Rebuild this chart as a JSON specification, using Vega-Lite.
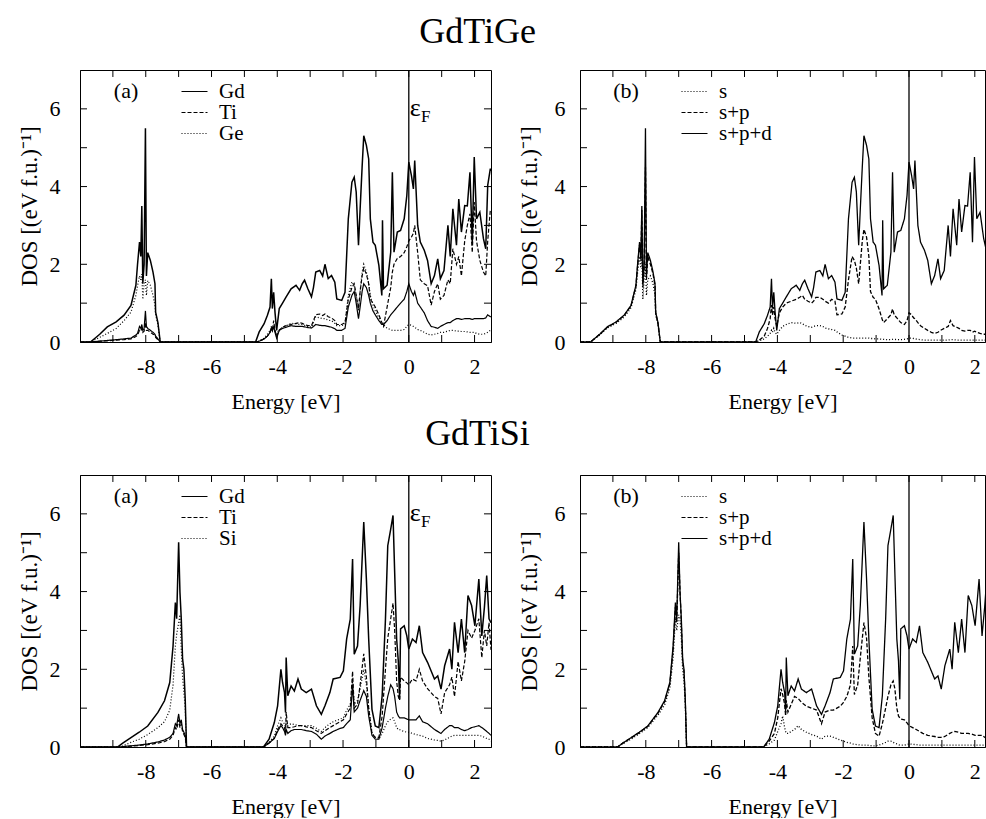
{
"$schema": "https://vega.github.io/schema/vega-lite/v6.json",
"background": "white",
"padding": {"left": 17, "top": 13, "right": 0, "bottom": 0},
"datasets": {
"xt": [{"t":-9},{"t":-8},{"t":-7},{"t":-6},{"t":-5},{"t":-4},{"t":-3},{"t":-2},{"t":-1},{"t":0},{"t":1},{"t":2}],
"yt": [{"t":1},{"t":2},{"t":3},{"t":4},{"t":5},{"t":6}],
"ge": [
{"E":-10,"T":0,"Gd":0,"Ti":0,"Ge":0,"s":0,"sp":0},
{"E":-9.68,"T":0,"Gd":0,"Ti":0,"Ge":0,"s":0,"sp":0},
{"E":-9.4,"T":0.2,"Gd":0.02,"Ti":0.02,"Ge":0.12,"s":0.18,"sp":0.2},
{"E":-9.17,"T":0.39,"Gd":0.04,"Ti":0.03,"Ge":0.22,"s":0.36,"sp":0.38},
{"E":-8.9,"T":0.52,"Gd":0.06,"Ti":0.05,"Ge":0.35,"s":0.48,"sp":0.51},
{"E":-8.66,"T":0.69,"Gd":0.08,"Ti":0.06,"Ge":0.55,"s":0.64,"sp":0.68},
{"E":-8.45,"T":0.94,"Gd":0.1,"Ti":0.08,"Ge":0.77,"s":0.88,"sp":0.93},
{"E":-8.3,"T":1.46,"Gd":0.18,"Ti":0.14,"Ge":1.2,"s":1.35,"sp":1.44},
{"E":-8.25,"T":2.0,"Gd":0.22,"Ti":0.18,"Ge":1.45,"s":1.8,"sp":1.95},
{"E":-8.19,"T":2.57,"Gd":0.4,"Ti":0.3,"Ge":1.7,"s":2.2,"sp":2.5},
{"E":-8.15,"T":2.2,"Gd":0.35,"Ti":0.28,"Ge":1.6,"s":1.9,"sp":2.1},
{"E":-8.12,"T":3.5,"Gd":0.45,"Ti":0.35,"Ge":1.75,"s":2.3,"sp":3.4},
{"E":-8.09,"T":1.5,"Gd":0.3,"Ti":0.25,"Ge":1.1,"s":1.1,"sp":1.4},
{"E":-8.05,"T":2.0,"Gd":0.35,"Ti":0.28,"Ge":1.5,"s":1.6,"sp":1.9},
{"E":-8.01,"T":5.5,"Gd":0.8,"Ti":0.5,"Ge":1.6,"s":2.0,"sp":4.5},
{"E":-7.98,"T":1.7,"Gd":0.4,"Ti":0.3,"Ge":1.2,"s":1.2,"sp":1.6},
{"E":-7.94,"T":2.3,"Gd":0.35,"Ti":0.3,"Ge":1.58,"s":1.6,"sp":2.2},
{"E":-7.86,"T":2.1,"Gd":0.3,"Ti":0.25,"Ge":1.46,"s":1.7,"sp":2.0},
{"E":-7.78,"T":1.8,"Gd":0.25,"Ti":0.2,"Ge":1.2,"s":1.5,"sp":1.75},
{"E":-7.72,"T":1.5,"Gd":0.2,"Ti":0.18,"Ge":0.94,"s":1.2,"sp":1.45},
{"E":-7.7,"T":0.77,"Gd":0.15,"Ti":0.12,"Ge":0.7,"s":0.7,"sp":0.75},
{"E":-7.63,"T":0.5,"Gd":0.08,"Ti":0.06,"Ge":0.45,"s":0.45,"sp":0.48},
{"E":-7.56,"T":0,"Gd":0,"Ti":0,"Ge":0,"s":0,"sp":0},
{"E":-4.66,"T":0,"Gd":0,"Ti":0,"Ge":0,"s":0,"sp":0},
{"E":-4.55,"T":0.26,"Gd":0.02,"Ti":0.02,"Ge":0.02,"s":0.03,"sp":0.05},
{"E":-4.4,"T":0.47,"Gd":0.08,"Ti":0.08,"Ge":0.1,"s":0.08,"sp":0.15},
{"E":-4.3,"T":0.69,"Gd":0.15,"Ti":0.15,"Ge":0.2,"s":0.15,"sp":0.35},
{"E":-4.22,"T":0.9,"Gd":0.25,"Ti":0.25,"Ge":0.3,"s":0.22,"sp":0.6},
{"E":-4.18,"T":1.63,"Gd":0.35,"Ti":0.4,"Ge":0.35,"s":0.3,"sp":0.95},
{"E":-4.15,"T":0.86,"Gd":0.28,"Ti":0.3,"Ge":0.3,"s":0.25,"sp":0.7},
{"E":-4.11,"T":1.28,"Gd":0.4,"Ti":0.55,"Ge":0.4,"s":0.35,"sp":0.9},
{"E":-4.07,"T":0.77,"Gd":0.25,"Ti":0.3,"Ge":0.28,"s":0.25,"sp":0.6},
{"E":-4.02,"T":0.3,"Gd":0.1,"Ti":0.15,"Ge":0.2,"s":0.2,"sp":0.4},
{"E":-3.94,"T":0.86,"Gd":0.3,"Ti":0.3,"Ge":0.32,"s":0.3,"sp":0.75},
{"E":-3.84,"T":1.0,"Gd":0.35,"Ti":0.38,"Ge":0.38,"s":0.4,"sp":0.9},
{"E":-3.73,"T":1.16,"Gd":0.38,"Ti":0.42,"Ge":0.42,"s":0.45,"sp":1.0},
{"E":-3.58,"T":1.37,"Gd":0.42,"Ti":0.45,"Ge":0.48,"s":0.5,"sp":1.05},
{"E":-3.43,"T":1.46,"Gd":0.4,"Ti":0.48,"Ge":0.47,"s":0.48,"sp":1.1},
{"E":-3.32,"T":1.33,"Gd":0.4,"Ti":0.5,"Ge":0.45,"s":0.5,"sp":1.15},
{"E":-3.24,"T":1.5,"Gd":0.4,"Ti":0.48,"Ge":0.45,"s":0.47,"sp":1.2},
{"E":-3.17,"T":1.59,"Gd":0.39,"Ti":0.45,"Ge":0.43,"s":0.43,"sp":1.1},
{"E":-3.07,"T":1.37,"Gd":0.37,"Ti":0.42,"Ge":0.4,"s":0.4,"sp":1.05},
{"E":-2.96,"T":1.16,"Gd":0.36,"Ti":0.42,"Ge":0.38,"s":0.38,"sp":1.0},
{"E":-2.9,"T":1.4,"Gd":0.4,"Ti":0.55,"Ge":0.5,"s":0.4,"sp":1.05},
{"E":-2.83,"T":1.8,"Gd":0.45,"Ti":0.7,"Ge":0.65,"s":0.42,"sp":1.15},
{"E":-2.71,"T":1.84,"Gd":0.43,"Ti":0.72,"Ge":0.62,"s":0.42,"sp":1.15},
{"E":-2.62,"T":1.7,"Gd":0.42,"Ti":0.68,"Ge":0.6,"s":0.4,"sp":1.1},
{"E":-2.55,"T":2.0,"Gd":0.42,"Ti":0.72,"Ge":0.6,"s":0.36,"sp":1.05},
{"E":-2.45,"T":1.63,"Gd":0.4,"Ti":0.65,"Ge":0.56,"s":0.34,"sp":1.0},
{"E":-2.35,"T":1.71,"Gd":0.38,"Ti":0.62,"Ge":0.55,"s":0.32,"sp":1.1},
{"E":-2.25,"T":1.54,"Gd":0.34,"Ti":0.55,"Ge":0.48,"s":0.3,"sp":1.05},
{"E":-2.19,"T":1.11,"Gd":0.3,"Ti":0.45,"Ge":0.42,"s":0.26,"sp":0.7},
{"E":-2.04,"T":1.07,"Gd":0.3,"Ti":0.45,"Ge":0.42,"s":0.18,"sp":0.72},
{"E":-1.94,"T":1.28,"Gd":0.35,"Ti":0.5,"Ge":0.45,"s":0.15,"sp":0.9},
{"E":-1.84,"T":3.17,"Gd":0.9,"Ti":1.1,"Ge":1.2,"s":0.12,"sp":1.6},
{"E":-1.73,"T":4.11,"Gd":1.2,"Ti":1.4,"Ge":1.55,"s":0.1,"sp":2.2},
{"E":-1.66,"T":4.24,"Gd":1.3,"Ti":1.5,"Ge":1.45,"s":0.1,"sp":2.1},
{"E":-1.6,"T":3.86,"Gd":1.0,"Ti":1.2,"Ge":1.2,"s":0.1,"sp":1.9},
{"E":-1.53,"T":2.49,"Gd":0.6,"Ti":0.85,"Ge":0.8,"s":0.1,"sp":1.5},
{"E":-1.48,"T":3.43,"Gd":0.9,"Ti":1.3,"Ge":1.3,"s":0.1,"sp":2.0},
{"E":-1.42,"T":4.5,"Gd":1.3,"Ti":1.7,"Ge":1.8,"s":0.1,"sp":2.6},
{"E":-1.37,"T":5.31,"Gd":1.5,"Ti":1.9,"Ge":2.0,"s":0.1,"sp":2.9},
{"E":-1.29,"T":5.06,"Gd":1.4,"Ti":1.75,"Ge":1.8,"s":0.1,"sp":2.7},
{"E":-1.22,"T":4.71,"Gd":1.2,"Ti":1.5,"Ge":1.5,"s":0.1,"sp":2.2},
{"E":-1.17,"T":3.17,"Gd":1.0,"Ti":1.1,"Ge":1.2,"s":0.09,"sp":1.3},
{"E":-1.09,"T":2.57,"Gd":0.8,"Ti":1.0,"Ge":0.95,"s":0.09,"sp":1.15},
{"E":-1.02,"T":2.49,"Gd":0.7,"Ti":0.9,"Ge":0.8,"s":0.08,"sp":1.1},
{"E":-0.91,"T":1.97,"Gd":0.55,"Ti":0.7,"Ge":0.62,"s":0.08,"sp":0.85},
{"E":-0.82,"T":1.2,"Gd":0.45,"Ti":0.5,"Ge":0.5,"s":0.07,"sp":0.6},
{"E":-0.8,"T":3.13,"Gd":0.45,"Ti":0.45,"Ge":0.5,"s":0.07,"sp":0.55},
{"E":-0.77,"T":1.37,"Gd":0.45,"Ti":0.4,"Ge":0.45,"s":0.07,"sp":0.5},
{"E":-0.66,"T":1.46,"Gd":0.55,"Ti":0.9,"Ge":0.35,"s":0.06,"sp":0.6},
{"E":-0.55,"T":2.31,"Gd":0.7,"Ti":1.4,"Ge":0.32,"s":0.06,"sp":0.7},
{"E":-0.5,"T":4.37,"Gd":0.75,"Ti":1.8,"Ge":0.3,"s":0.07,"sp":0.85},
{"E":-0.45,"T":2.31,"Gd":0.8,"Ti":2.0,"Ge":0.3,"s":0.07,"sp":0.7},
{"E":-0.35,"T":2.83,"Gd":0.9,"Ti":2.15,"Ge":0.3,"s":0.06,"sp":0.6},
{"E":-0.25,"T":2.87,"Gd":1.0,"Ti":2.2,"Ge":0.3,"s":0.06,"sp":0.5},
{"E":-0.14,"T":3.17,"Gd":1.1,"Ti":2.3,"Ge":0.32,"s":0.07,"sp":0.45},
{"E":-0.06,"T":3.77,"Gd":1.3,"Ti":2.45,"Ge":0.4,"s":0.08,"sp":0.55},
{"E":0,"T":4.63,"Gd":1.5,"Ti":2.6,"Ge":0.45,"s":0.1,"sp":0.75},
{"E":0.08,"T":4.28,"Gd":1.3,"Ti":2.7,"Ge":0.43,"s":0.1,"sp":0.7},
{"E":0.14,"T":3.94,"Gd":1.2,"Ti":2.8,"Ge":0.4,"s":0.09,"sp":0.62},
{"E":0.18,"T":4.67,"Gd":1.3,"Ti":3.0,"Ge":0.38,"s":0.08,"sp":0.6},
{"E":0.27,"T":3.0,"Gd":1.0,"Ti":2.3,"Ge":0.32,"s":0.07,"sp":0.5},
{"E":0.35,"T":2.57,"Gd":0.9,"Ti":1.6,"Ge":0.3,"s":0.06,"sp":0.42},
{"E":0.47,"T":2.36,"Gd":0.75,"Ti":1.5,"Ge":0.25,"s":0.05,"sp":0.35},
{"E":0.57,"T":2.1,"Gd":0.55,"Ti":1.45,"Ge":0.2,"s":0.05,"sp":0.3},
{"E":0.68,"T":1.5,"Gd":0.4,"Ti":0.95,"Ge":0.18,"s":0.05,"sp":0.25},
{"E":0.78,"T":1.71,"Gd":0.38,"Ti":1.3,"Ge":0.2,"s":0.05,"sp":0.22},
{"E":0.88,"T":2.14,"Gd":0.35,"Ti":1.5,"Ge":0.22,"s":0.05,"sp":0.25},
{"E":0.96,"T":1.63,"Gd":0.4,"Ti":1.1,"Ge":0.25,"s":0.05,"sp":0.3},
{"E":1.07,"T":1.84,"Gd":0.45,"Ti":1.2,"Ge":0.25,"s":0.05,"sp":0.35},
{"E":1.19,"T":3.0,"Gd":0.5,"Ti":1.6,"Ge":0.28,"s":0.05,"sp":0.4},
{"E":1.26,"T":2.2,"Gd":0.5,"Ti":1.5,"Ge":0.3,"s":0.06,"sp":0.55},
{"E":1.34,"T":3.43,"Gd":0.55,"Ti":2.4,"Ge":0.3,"s":0.06,"sp":0.42},
{"E":1.45,"T":2.49,"Gd":0.6,"Ti":2.0,"Ge":0.28,"s":0.05,"sp":0.38},
{"E":1.52,"T":3.68,"Gd":0.6,"Ti":2.2,"Ge":0.28,"s":0.05,"sp":0.35},
{"E":1.6,"T":2.83,"Gd":0.58,"Ti":1.7,"Ge":0.27,"s":0.05,"sp":0.3},
{"E":1.7,"T":3.51,"Gd":0.6,"Ti":2.6,"Ge":0.27,"s":0.05,"sp":0.28},
{"E":1.78,"T":3.5,"Gd":0.6,"Ti":3.0,"Ge":0.26,"s":0.05,"sp":0.3},
{"E":1.86,"T":4.37,"Gd":0.6,"Ti":3.3,"Ge":0.25,"s":0.05,"sp":0.3},
{"E":1.93,"T":2.57,"Gd":0.58,"Ti":2.3,"Ge":0.25,"s":0.05,"sp":0.25},
{"E":1.99,"T":4.76,"Gd":0.6,"Ti":3.6,"Ge":0.25,"s":0.05,"sp":0.28},
{"E":2.06,"T":3.17,"Gd":0.6,"Ti":2.6,"Ge":0.22,"s":0.05,"sp":0.25},
{"E":2.16,"T":3.34,"Gd":0.6,"Ti":2.1,"Ge":0.2,"s":0.05,"sp":0.22},
{"E":2.27,"T":2.66,"Gd":0.6,"Ti":1.8,"Ge":0.2,"s":0.05,"sp":0.2},
{"E":2.34,"T":2.4,"Gd":0.62,"Ti":1.7,"Ge":0.22,"s":0.05,"sp":0.2},
{"E":2.4,"T":4.03,"Gd":0.7,"Ti":2.6,"Ge":0.25,"s":0.05,"sp":0.22},
{"E":2.48,"T":4.46,"Gd":0.65,"Ti":3.4,"Ge":0.3,"s":0.05,"sp":0.2},
{"E":2.5,"T":4.4,"Gd":0.65,"Ti":3.4,"Ge":0.3,"s":0.05,"sp":0.2}
],
"si": [
{"E":-10,"T":0,"Gd":0,"Ti":0,"Si":0,"s":0,"sp":0},
{"E":-8.86,"T":0,"Gd":0,"Ti":0,"Si":0,"s":0,"sp":0},
{"E":-8.7,"T":0.1,"Gd":0.01,"Ti":0.01,"Si":0.03,"s":0.08,"sp":0.1},
{"E":-8.45,"T":0.24,"Gd":0.03,"Ti":0.02,"Si":0.12,"s":0.2,"sp":0.23},
{"E":-8.2,"T":0.38,"Gd":0.05,"Ti":0.04,"Si":0.2,"s":0.34,"sp":0.37},
{"E":-7.94,"T":0.54,"Gd":0.08,"Ti":0.06,"Si":0.32,"s":0.5,"sp":0.53},
{"E":-7.63,"T":0.89,"Gd":0.13,"Ti":0.1,"Si":0.5,"s":0.82,"sp":0.87},
{"E":-7.43,"T":1.19,"Gd":0.18,"Ti":0.14,"Si":0.65,"s":1.08,"sp":1.16},
{"E":-7.27,"T":1.66,"Gd":0.25,"Ti":0.2,"Si":0.95,"s":1.5,"sp":1.62},
{"E":-7.17,"T":2.6,"Gd":0.35,"Ti":0.3,"Si":1.6,"s":2.3,"sp":2.5},
{"E":-7.1,"T":3.72,"Gd":0.6,"Ti":0.5,"Si":2.6,"s":3.3,"sp":3.6},
{"E":-7.06,"T":3.3,"Gd":0.55,"Ti":0.45,"Si":2.9,"s":3.0,"sp":3.2},
{"E":-7.0,"T":5.27,"Gd":0.85,"Ti":0.7,"Si":3.2,"s":3.4,"sp":5.0},
{"E":-6.96,"T":3.98,"Gd":0.6,"Ti":0.5,"Si":3.4,"s":3.3,"sp":4.0},
{"E":-6.92,"T":3.3,"Gd":0.7,"Ti":0.6,"Si":2.5,"s":2.8,"sp":3.2},
{"E":-6.88,"T":2.26,"Gd":0.45,"Ti":0.4,"Si":1.8,"s":2.0,"sp":2.2},
{"E":-6.84,"T":2.0,"Gd":0.38,"Ti":0.32,"Si":1.4,"s":1.7,"sp":1.95},
{"E":-6.8,"T":1.23,"Gd":0.3,"Ti":0.25,"Si":1.0,"s":1.1,"sp":1.2},
{"E":-6.76,"T":0,"Gd":0,"Ti":0,"Si":0,"s":0,"sp":0},
{"E":-4.42,"T":0,"Gd":0,"Ti":0,"Si":0,"s":0,"sp":0},
{"E":-4.25,"T":0.2,"Gd":0.1,"Ti":0.1,"Si":0.12,"s":0.08,"sp":0.15},
{"E":-4.09,"T":0.63,"Gd":0.22,"Ti":0.22,"Si":0.28,"s":0.18,"sp":0.35},
{"E":-3.99,"T":1.06,"Gd":0.4,"Ti":0.45,"Si":0.55,"s":0.4,"sp":0.75},
{"E":-3.89,"T":2.0,"Gd":0.55,"Ti":0.6,"Si":0.75,"s":0.6,"sp":1.5},
{"E":-3.84,"T":1.66,"Gd":0.5,"Ti":0.55,"Si":0.65,"s":0.8,"sp":1.35},
{"E":-3.78,"T":1.4,"Gd":0.4,"Ti":0.5,"Si":0.6,"s":0.5,"sp":1.1},
{"E":-3.75,"T":0.89,"Gd":0.3,"Ti":0.35,"Si":0.45,"s":0.4,"sp":0.8},
{"E":-3.73,"T":2.3,"Gd":0.45,"Ti":0.9,"Si":0.6,"s":0.35,"sp":1.2},
{"E":-3.68,"T":1.32,"Gd":0.35,"Ti":0.5,"Si":0.55,"s":0.35,"sp":0.9},
{"E":-3.58,"T":1.57,"Gd":0.42,"Ti":0.5,"Si":0.6,"s":0.4,"sp":1.1},
{"E":-3.48,"T":1.44,"Gd":0.45,"Ti":0.52,"Si":0.58,"s":0.45,"sp":1.3},
{"E":-3.37,"T":1.75,"Gd":0.45,"Ti":0.55,"Si":0.55,"s":0.55,"sp":1.25},
{"E":-3.27,"T":1.49,"Gd":0.45,"Ti":0.55,"Si":0.55,"s":0.45,"sp":1.15},
{"E":-3.12,"T":1.4,"Gd":0.42,"Ti":0.52,"Si":0.55,"s":0.38,"sp":1.05},
{"E":-2.96,"T":1.49,"Gd":0.4,"Ti":0.5,"Si":0.55,"s":0.32,"sp":1.0},
{"E":-2.81,"T":1.06,"Gd":0.33,"Ti":0.42,"Si":0.48,"s":0.28,"sp":0.95},
{"E":-2.66,"T":0.84,"Gd":0.2,"Ti":0.35,"Si":0.4,"s":0.2,"sp":0.6},
{"E":-2.55,"T":1.06,"Gd":0.28,"Ti":0.42,"Si":0.5,"s":0.28,"sp":0.9},
{"E":-2.4,"T":1.4,"Gd":0.35,"Ti":0.5,"Si":0.6,"s":0.28,"sp":0.95},
{"E":-2.3,"T":1.75,"Gd":0.4,"Ti":0.55,"Si":0.65,"s":0.25,"sp":0.95},
{"E":-2.09,"T":1.79,"Gd":0.48,"Ti":0.65,"Si":0.72,"s":0.18,"sp":1.05},
{"E":-1.99,"T":1.96,"Gd":0.5,"Ti":0.7,"Si":0.75,"s":0.15,"sp":1.15},
{"E":-1.89,"T":2.78,"Gd":0.6,"Ti":0.85,"Si":0.95,"s":0.12,"sp":1.3},
{"E":-1.78,"T":3.29,"Gd":0.7,"Ti":1.0,"Si":1.1,"s":0.1,"sp":1.6},
{"E":-1.71,"T":4.84,"Gd":1.6,"Ti":1.95,"Si":1.7,"s":0.08,"sp":2.6},
{"E":-1.66,"T":2.39,"Gd":0.9,"Ti":1.0,"Si":1.1,"s":0.07,"sp":1.35},
{"E":-1.56,"T":2.6,"Gd":1.0,"Ti":1.1,"Si":1.2,"s":0.06,"sp":1.6},
{"E":-1.48,"T":3.64,"Gd":1.2,"Ti":1.6,"Si":1.5,"s":0.05,"sp":2.3},
{"E":-1.37,"T":5.79,"Gd":1.45,"Ti":2.4,"Si":2.0,"s":0.05,"sp":3.2},
{"E":-1.29,"T":4.32,"Gd":1.3,"Ti":1.8,"Si":1.6,"s":0.05,"sp":2.8},
{"E":-1.22,"T":2.78,"Gd":0.8,"Ti":1.0,"Si":1.0,"s":0.04,"sp":1.8},
{"E":-1.12,"T":0.97,"Gd":0.3,"Ti":0.35,"Si":0.35,"s":0.03,"sp":0.75},
{"E":-1.02,"T":0.54,"Gd":0.2,"Ti":0.25,"Si":0.25,"s":0.03,"sp":0.35},
{"E":-0.91,"T":0.5,"Gd":0.2,"Ti":0.25,"Si":0.2,"s":0.05,"sp":0.28},
{"E":-0.81,"T":1.32,"Gd":0.5,"Ti":0.8,"Si":0.35,"s":0.08,"sp":0.6},
{"E":-0.71,"T":3.29,"Gd":1.0,"Ti":2.0,"Si":0.55,"s":0.12,"sp":1.0},
{"E":-0.64,"T":5.18,"Gd":1.3,"Ti":2.8,"Si":0.65,"s":0.15,"sp":1.3},
{"E":-0.55,"T":5.61,"Gd":1.6,"Ti":3.3,"Si":0.72,"s":0.15,"sp":1.6},
{"E":-0.48,"T":5.96,"Gd":1.5,"Ti":3.7,"Si":0.75,"s":0.12,"sp":1.7},
{"E":-0.43,"T":4.5,"Gd":1.3,"Ti":3.0,"Si":0.65,"s":0.1,"sp":1.5},
{"E":-0.37,"T":2.78,"Gd":0.9,"Ti":1.7,"Si":0.5,"s":0.08,"sp":1.0},
{"E":-0.32,"T":2.22,"Gd":0.8,"Ti":1.3,"Si":0.45,"s":0.06,"sp":0.8},
{"E":-0.28,"T":1.23,"Gd":0.75,"Ti":1.2,"Si":0.45,"s":0.05,"sp":0.75},
{"E":-0.25,"T":3.04,"Gd":0.75,"Ti":1.8,"Si":0.43,"s":0.05,"sp":0.72},
{"E":-0.14,"T":3.12,"Gd":0.75,"Ti":1.7,"Si":0.4,"s":0.05,"sp":0.7},
{"E":-0.06,"T":2.86,"Gd":0.72,"Ti":1.65,"Si":0.38,"s":0.06,"sp":0.62},
{"E":0,"T":2.52,"Gd":0.7,"Ti":1.6,"Si":0.38,"s":0.08,"sp":0.55},
{"E":0.11,"T":2.78,"Gd":0.7,"Ti":1.75,"Si":0.35,"s":0.07,"sp":0.5},
{"E":0.22,"T":2.69,"Gd":0.7,"Ti":1.7,"Si":0.32,"s":0.06,"sp":0.45},
{"E":0.32,"T":3.12,"Gd":0.8,"Ti":2.0,"Si":0.3,"s":0.05,"sp":0.4},
{"E":0.42,"T":2.43,"Gd":0.65,"Ti":1.7,"Si":0.28,"s":0.05,"sp":0.35},
{"E":0.57,"T":2.18,"Gd":0.6,"Ti":1.5,"Si":0.22,"s":0.05,"sp":0.3},
{"E":0.78,"T":1.75,"Gd":0.45,"Ti":1.3,"Si":0.18,"s":0.05,"sp":0.27},
{"E":0.88,"T":1.83,"Gd":0.4,"Ti":1.25,"Si":0.17,"s":0.05,"sp":0.25},
{"E":0.98,"T":1.49,"Gd":0.35,"Ti":0.85,"Si":0.15,"s":0.05,"sp":0.25},
{"E":1.09,"T":2.09,"Gd":0.45,"Ti":1.4,"Si":0.18,"s":0.05,"sp":0.27},
{"E":1.24,"T":2.52,"Gd":0.55,"Ti":1.6,"Si":0.25,"s":0.05,"sp":0.35},
{"E":1.31,"T":2.0,"Gd":0.55,"Ti":1.8,"Si":0.28,"s":0.05,"sp":0.38},
{"E":1.39,"T":3.21,"Gd":0.5,"Ti":1.3,"Si":0.3,"s":0.05,"sp":0.4},
{"E":1.5,"T":2.43,"Gd":0.5,"Ti":2.2,"Si":0.3,"s":0.05,"sp":0.38},
{"E":1.6,"T":3.29,"Gd":0.45,"Ti":1.7,"Si":0.3,"s":0.05,"sp":0.35},
{"E":1.7,"T":2.43,"Gd":0.42,"Ti":2.2,"Si":0.3,"s":0.05,"sp":0.35},
{"E":1.8,"T":3.9,"Gd":0.45,"Ti":3.0,"Si":0.3,"s":0.05,"sp":0.35},
{"E":1.91,"T":3.64,"Gd":0.5,"Ti":2.8,"Si":0.3,"s":0.05,"sp":0.33},
{"E":2.01,"T":3.12,"Gd":0.52,"Ti":3.0,"Si":0.3,"s":0.05,"sp":0.3},
{"E":2.13,"T":4.32,"Gd":0.55,"Ti":3.3,"Si":0.3,"s":0.05,"sp":0.3},
{"E":2.22,"T":2.86,"Gd":0.5,"Ti":2.3,"Si":0.28,"s":0.05,"sp":0.3},
{"E":2.3,"T":3.6,"Gd":0.45,"Ti":3.0,"Si":0.25,"s":0.05,"sp":0.25},
{"E":2.37,"T":4.41,"Gd":0.4,"Ti":2.6,"Si":0.22,"s":0.05,"sp":0.22},
{"E":2.44,"T":3.3,"Gd":0.35,"Ti":3.2,"Si":0.2,"s":0.05,"sp":0.2},
{"E":2.5,"T":3.2,"Gd":0.3,"Ti":2.5,"Si":0.15,"s":0.05,"sp":0.2}
]
},
"spacing": 2,
"resolve": {"scale": {"strokeDash": "independent"}, "legend": {"strokeDash": "independent"}},
"vconcat": [
{
"title": {"text": "GdTiGe", "offset": 18, "dx": -24},
"spacing": 25,
"resolve": {"scale": {"strokeDash": "independent"}, "legend": {"strokeDash": "independent"}},
"hconcat": [
{
"width": 411, "height": 272,
"layer": [
{"data": {"name": "ge"}, "mark": {"type": "line", "color": "black", "strokeWidth": 1.5, "clip": true},
 "encoding": {
  "x": {"field": "E", "type": "quantitative", "scale": {"domain": [-10, 2.5], "nice": false, "zero": false},
        "axis": {"orient": "bottom", "values": [-8,-6,-4,-2,0,2], "ticks": false, "labelExpr": "'' + datum.value", "title": "Energy [eV]", "labelPadding": 14}},
  "y": {"field": "T", "type": "quantitative", "scale": {"domain": [0, 7], "nice": false, "zero": false},
        "axis": {"orient": "left", "values": [0,2,4,6], "ticks": false, "labelExpr": "'' + datum.value", "title": "DOS [(eV f.u.)⁻¹]", "labelPadding": 20, "titlePadding": 8}}}},
{"data": {"name": "ge"}, "transform": [{"fold": ["Gd", "Ti", "Ge"], "as": ["k", "v"]}],
 "mark": {"type": "line", "color": "black", "strokeWidth": 1.2, "clip": true},
 "encoding": {
  "x": {"field": "E", "type": "quantitative"},
  "y": {"field": "v", "type": "quantitative"},
  "strokeDash": {"field": "k", "type": "nominal", "scale": {"domain": ["Gd", "Ti", "Ge"], "range": [[1, 0], [4, 2], [1, 2]]},
                 "legend": {"orient": "none", "legendX": 104, "legendY": 11, "title": null, "symbolType": "M-2,0H2", "symbolSize": 169}}}},
{"data": {"name": "xt"}, "mark": {"type": "rule", "color": "black", "strokeWidth": 1},
 "encoding": {"x": {"field": "t", "type": "quantitative"}, "y": {"datum": 0, "type": "quantitative"}, "y2": {"datum": 0.18}}},
{"data": {"name": "xt"}, "mark": {"type": "rule", "color": "black", "strokeWidth": 1},
 "encoding": {"x": {"field": "t", "type": "quantitative"}, "y": {"datum": 7, "type": "quantitative"}, "y2": {"datum": 6.82}}},
{"data": {"name": "yt"}, "mark": {"type": "rule", "color": "black", "strokeWidth": 1},
 "encoding": {"y": {"field": "t", "type": "quantitative"}, "x": {"datum": -10, "type": "quantitative"}, "x2": {"datum": -9.787}}},
{"data": {"name": "yt"}, "mark": {"type": "rule", "color": "black", "strokeWidth": 1},
 "encoding": {"y": {"field": "t", "type": "quantitative"}, "x": {"datum": 2.5, "type": "quantitative"}, "x2": {"datum": 2.287}}},
{"data": {"values": [{}]}, "mark": {"type": "rule", "color": "black", "strokeWidth": 1.3},
 "encoding": {"x": {"datum": 0, "type": "quantitative"}}},
{"data": {"values": [{}]}, "mark": {"type": "text", "text": "(a)", "fontSize": 22, "align": "center", "baseline": "alphabetic", "font": "Liberation Serif"},
 "encoding": {"x": {"datum": -8.6, "type": "quantitative"}, "y": {"datum": 6.28, "type": "quantitative"}}},
{"data": {"values": [{}]}, "mark": {"type": "text", "text": "ε", "fontSize": 26, "align": "left", "baseline": "alphabetic", "font": "Liberation Serif"},
 "encoding": {"x": {"datum": 0.03, "type": "quantitative"}, "y": {"datum": 5.82, "type": "quantitative"}}},
{"data": {"values": [{}]}, "mark": {"type": "text", "text": "F", "fontSize": 17, "align": "left", "baseline": "alphabetic", "font": "Liberation Serif"},
 "encoding": {"x": {"datum": 0.37, "type": "quantitative"}, "y": {"datum": 5.66, "type": "quantitative"}}}
]
},
{
"width": 405, "height": 272,
"layer": [
{"data": {"name": "ge"}, "transform": [{"fold": ["s", "sp", "T"], "as": ["k", "v"]}],
 "mark": {"type": "line", "color": "black", "strokeWidth": 1.3, "clip": true},
 "encoding": {
  "x": {"field": "E", "type": "quantitative", "scale": {"domain": [-10, 2.31], "nice": false, "zero": false},
        "axis": {"orient": "bottom", "values": [-8,-6,-4,-2,0,2], "ticks": false, "labelExpr": "'' + datum.value", "title": "Energy [eV]", "labelPadding": 14}},
  "y": {"field": "v", "type": "quantitative", "scale": {"domain": [0, 7], "nice": false, "zero": false},
        "axis": {"orient": "left", "values": [0,2,4,6], "ticks": false, "labelExpr": "'' + datum.value", "title": "DOS [(eV f.u.)⁻¹]", "labelPadding": 15, "titlePadding": 13}},
  "strokeDash": {"field": "k", "type": "nominal", "scale": {"domain": ["s", "sp", "T"], "range": [[1, 2], [4, 2], [1, 0]]},
                 "legend": {"orient": "none", "legendX": 104, "legendY": 11, "title": null, "symbolType": "M-2,0H2", "symbolSize": 169, "labelExpr": "datum.label == 'sp' ? 's+p' : datum.label == 'T' ? 's+p+d' : 's'"}}}},
{"data": {"name": "xt"}, "mark": {"type": "rule", "color": "black", "strokeWidth": 1},
 "encoding": {"x": {"field": "t", "type": "quantitative"}, "y": {"datum": 0, "type": "quantitative"}, "y2": {"datum": 0.18}}},
{"data": {"name": "xt"}, "mark": {"type": "rule", "color": "black", "strokeWidth": 1},
 "encoding": {"x": {"field": "t", "type": "quantitative"}, "y": {"datum": 7, "type": "quantitative"}, "y2": {"datum": 6.82}}},
{"data": {"name": "yt"}, "mark": {"type": "rule", "color": "black", "strokeWidth": 1},
 "encoding": {"y": {"field": "t", "type": "quantitative"}, "x": {"datum": -10, "type": "quantitative"}, "x2": {"datum": -9.787}}},
{"data": {"values": [{}]}, "mark": {"type": "rule", "color": "black", "strokeWidth": 1.3},
 "encoding": {"x": {"datum": 0, "type": "quantitative"}}},
{"data": {"values": [{}]}, "mark": {"type": "text", "text": "(b)", "fontSize": 22, "align": "center", "baseline": "alphabetic", "font": "Liberation Serif"},
 "encoding": {"x": {"datum": -8.6, "type": "quantitative"}, "y": {"datum": 6.28, "type": "quantitative"}}}
]
}
]
},
{
"title": {"text": "GdTiSi", "offset": 21, "dx": -24},
"spacing": 25,
"resolve": {"scale": {"strokeDash": "independent"}, "legend": {"strokeDash": "independent"}},
"hconcat": [
{
"width": 411, "height": 272,
"layer": [
{"data": {"name": "si"}, "mark": {"type": "line", "color": "black", "strokeWidth": 1.5, "clip": true},
 "encoding": {
  "x": {"field": "E", "type": "quantitative", "scale": {"domain": [-10, 2.5], "nice": false, "zero": false},
        "axis": {"orient": "bottom", "values": [-8,-6,-4,-2,0,2], "ticks": false, "labelExpr": "'' + datum.value", "title": "Energy [eV]", "labelPadding": 14}},
  "y": {"field": "T", "type": "quantitative", "scale": {"domain": [0, 7], "nice": false, "zero": false},
        "axis": {"orient": "left", "values": [0,2,4,6], "ticks": false, "labelExpr": "'' + datum.value", "title": "DOS [(eV f.u.)⁻¹]", "labelPadding": 20, "titlePadding": 8}}}},
{"data": {"name": "si"}, "transform": [{"fold": ["Gd", "Ti", "Si"], "as": ["k", "v"]}],
 "mark": {"type": "line", "color": "black", "strokeWidth": 1.2, "clip": true},
 "encoding": {
  "x": {"field": "E", "type": "quantitative"},
  "y": {"field": "v", "type": "quantitative"},
  "strokeDash": {"field": "k", "type": "nominal", "scale": {"domain": ["Gd", "Ti", "Si"], "range": [[1, 0], [4, 2], [1, 2]]},
                 "legend": {"orient": "none", "legendX": 104, "legendY": 11, "title": null, "symbolType": "M-2,0H2", "symbolSize": 169}}}},
{"data": {"name": "xt"}, "mark": {"type": "rule", "color": "black", "strokeWidth": 1},
 "encoding": {"x": {"field": "t", "type": "quantitative"}, "y": {"datum": 0, "type": "quantitative"}, "y2": {"datum": 0.18}}},
{"data": {"name": "xt"}, "mark": {"type": "rule", "color": "black", "strokeWidth": 1},
 "encoding": {"x": {"field": "t", "type": "quantitative"}, "y": {"datum": 7, "type": "quantitative"}, "y2": {"datum": 6.82}}},
{"data": {"name": "yt"}, "mark": {"type": "rule", "color": "black", "strokeWidth": 1},
 "encoding": {"y": {"field": "t", "type": "quantitative"}, "x": {"datum": -10, "type": "quantitative"}, "x2": {"datum": -9.787}}},
{"data": {"name": "yt"}, "mark": {"type": "rule", "color": "black", "strokeWidth": 1},
 "encoding": {"y": {"field": "t", "type": "quantitative"}, "x": {"datum": 2.5, "type": "quantitative"}, "x2": {"datum": 2.287}}},
{"data": {"values": [{}]}, "mark": {"type": "rule", "color": "black", "strokeWidth": 1.3},
 "encoding": {"x": {"datum": 0, "type": "quantitative"}}},
{"data": {"values": [{}]}, "mark": {"type": "text", "text": "(a)", "fontSize": 22, "align": "center", "baseline": "alphabetic", "font": "Liberation Serif"},
 "encoding": {"x": {"datum": -8.6, "type": "quantitative"}, "y": {"datum": 6.28, "type": "quantitative"}}},
{"data": {"values": [{}]}, "mark": {"type": "text", "text": "ε", "fontSize": 26, "align": "left", "baseline": "alphabetic", "font": "Liberation Serif"},
 "encoding": {"x": {"datum": 0.03, "type": "quantitative"}, "y": {"datum": 5.82, "type": "quantitative"}}},
{"data": {"values": [{}]}, "mark": {"type": "text", "text": "F", "fontSize": 17, "align": "left", "baseline": "alphabetic", "font": "Liberation Serif"},
 "encoding": {"x": {"datum": 0.37, "type": "quantitative"}, "y": {"datum": 5.66, "type": "quantitative"}}}
]
},
{
"width": 405, "height": 272,
"layer": [
{"data": {"name": "si"}, "transform": [{"fold": ["s", "sp", "T"], "as": ["k", "v"]}],
 "mark": {"type": "line", "color": "black", "strokeWidth": 1.3, "clip": true},
 "encoding": {
  "x": {"field": "E", "type": "quantitative", "scale": {"domain": [-10, 2.31], "nice": false, "zero": false},
        "axis": {"orient": "bottom", "values": [-8,-6,-4,-2,0,2], "ticks": false, "labelExpr": "'' + datum.value", "title": "Energy [eV]", "labelPadding": 14}},
  "y": {"field": "v", "type": "quantitative", "scale": {"domain": [0, 7], "nice": false, "zero": false},
        "axis": {"orient": "left", "values": [0,2,4,6], "ticks": false, "labelExpr": "'' + datum.value", "title": "DOS [(eV f.u.)⁻¹]", "labelPadding": 15, "titlePadding": 13}},
  "strokeDash": {"field": "k", "type": "nominal", "scale": {"domain": ["s", "sp", "T"], "range": [[1, 2], [4, 2], [1, 0]]},
                 "legend": {"orient": "none", "legendX": 104, "legendY": 11, "title": null, "symbolType": "M-2,0H2", "symbolSize": 169, "labelExpr": "datum.label == 'sp' ? 's+p' : datum.label == 'T' ? 's+p+d' : 's'"}}}},
{"data": {"name": "xt"}, "mark": {"type": "rule", "color": "black", "strokeWidth": 1},
 "encoding": {"x": {"field": "t", "type": "quantitative"}, "y": {"datum": 0, "type": "quantitative"}, "y2": {"datum": 0.18}}},
{"data": {"name": "xt"}, "mark": {"type": "rule", "color": "black", "strokeWidth": 1},
 "encoding": {"x": {"field": "t", "type": "quantitative"}, "y": {"datum": 7, "type": "quantitative"}, "y2": {"datum": 6.82}}},
{"data": {"name": "yt"}, "mark": {"type": "rule", "color": "black", "strokeWidth": 1},
 "encoding": {"y": {"field": "t", "type": "quantitative"}, "x": {"datum": -10, "type": "quantitative"}, "x2": {"datum": -9.787}}},
{"data": {"values": [{}]}, "mark": {"type": "rule", "color": "black", "strokeWidth": 1.3},
 "encoding": {"x": {"datum": 0, "type": "quantitative"}}},
{"data": {"values": [{}]}, "mark": {"type": "text", "text": "(b)", "fontSize": 22, "align": "center", "baseline": "alphabetic", "font": "Liberation Serif"},
 "encoding": {"x": {"datum": -8.6, "type": "quantitative"}, "y": {"datum": 6.28, "type": "quantitative"}}}
]
}
]
}
],
"config": {
 "font": "Liberation Serif",
 "view": {"stroke": "black", "strokeWidth": 1},
 "title": {"font": "Liberation Serif", "fontSize": 36, "fontWeight": "normal", "color": "black", "anchor": "middle"},
 "axis": {"grid": false, "domainColor": "black", "tickColor": "black", "labelColor": "black", "titleColor": "black",
          "labelFont": "Liberation Serif", "labelFontSize": 22, "titleFont": "Liberation Serif", "titleFontSize": 22, "titleFontWeight": "normal",
          "labelPadding": 15, "titlePadding": 14, "labelFlush": false, "labelOverlap": false, "domainWidth": 1, "zindex": 1},
 "axisY": {"titleFontSize": 23},
 "legend": {"symbolStrokeWidth": 1.2, "labelFont": "Liberation Serif", "labelFontSize": 21, "labelColor": "black",
            "labelOffset": 14, "rowPadding": -3, "padding": 0, "labelLimit": 300}
}
}
